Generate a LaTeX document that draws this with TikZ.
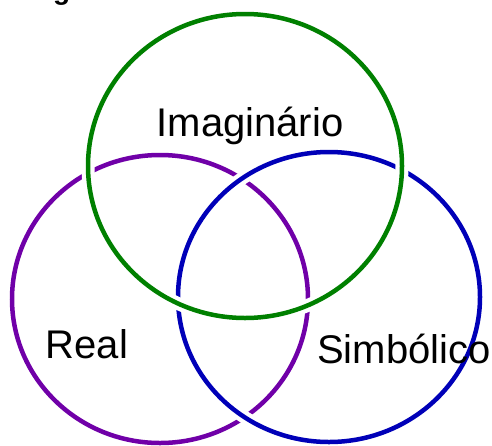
\documentclass[tikz,border=0pt]{standalone}
\usepackage{fontspec}
\setmainfont{Liberation Sans}
\definecolor{realc}{RGB}{112,0,168}
\definecolor{simbc}{RGB}{0,0,184}
\definecolor{imagc}{RGB}{0,128,0}
\begin{document}
\begin{tikzpicture}[
	x=1pt, y=-1pt,
	ring/.style={ line width=4.5pt },
	ringgap/.style={ white, line width=13pt },
	lbl/.style={ anchor=base, inner sep=0pt, font=\fontsize{40}{48}\selectfont },
	capt/.style={ anchor=base west, inner sep=0pt, font=\fontsize{28}{34}\selectfont\bfseries }
]
\useasboundingbox (0,0) rectangle (492,445);

% caption, cut off by the page edge
\node at (28,-1) (fig) [capt] {Figura};

% Real
\draw[ring, realc] (160,299) ellipse [x radius=148pt, y radius=144pt];
% Simbolico passes over Real
\draw[ringgap] (329,297) ellipse [x radius=151pt, y radius=145pt];
\draw[ring, simbc] (329,297) ellipse [x radius=151pt, y radius=145pt];
% Imaginario passes over both
\draw[ringgap] (245,166) ellipse [x radius=157pt, y radius=152pt];
\draw[ring, imagc] (245,166) ellipse [x radius=157pt, y radius=152pt];

\node at (250,136) (imag) [lbl] {Imaginário};
\node at (87,358) (real) [lbl] {Real};
\node at (404,363) (simb) [lbl] {Simbólico};

\end{tikzpicture}
\end{document}
